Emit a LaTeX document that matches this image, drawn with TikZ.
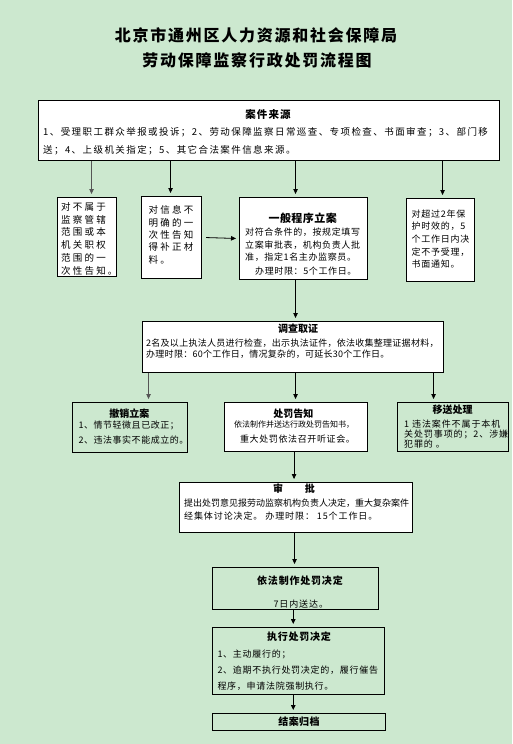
\documentclass[tikz,border=0pt]{standalone}
\usepackage{fontspec}
\setmainfont{Noto Sans CJK SC}
\usetikzlibrary{arrows.meta}
\definecolor{bgc}{RGB}{204,232,207}
\definecolor{arrgray}{RGB}{85,85,85}
\newcommand\fz[3]{\fontsize{#1}{#3}\selectfont\addfontfeature{LetterSpace=#2}}
\tikzset{
  box/.style={draw=black, line width=1.1pt, fill=white, inner sep=0pt, anchor=north west},
  gbox/.style={box, fill=bgc},
  txt/.style={inner sep=0pt, anchor=north west, align=left},
  ttl/.style={inner sep=0pt, anchor=center},
  arr/.style={draw=black, line width=0.8pt, -{Triangle[length=5pt,width=4.5pt]}, shorten >=3pt},
  garr/.style={arr, draw=arrgray}
}
\begin{document}
\begin{tikzpicture}[x=1pt,y=-1pt]
\useasboundingbox (0,0) rectangle (512,744);
\fill[bgc] (0,0) rectangle (512,744);

% Title
\node[ttl, font=\fz{16}{11}{18}\bfseries] (t1) at (256,35) {北京市通州区人力资源和社会保障局};
\node[ttl, font=\fz{16}{11}{18}\bfseries] (t2) at (257,60) {劳动保障监察行政处罚流程图};

% Boxes
\node[box, minimum width=461pt, minimum height=60pt] (top) at (38,100) {};
\node[box, minimum width=59pt, minimum height=79pt] (A) at (57,197) {};
\node[box, minimum width=60pt, minimum height=82pt] (B) at (141,196) {};
\node[box, minimum width=128pt, minimum height=82pt] (C) at (239,197) {};
\node[box, minimum width=68pt, minimum height=83pt] (D) at (406,198) {};
\node[box, minimum width=301pt, minimum height=51pt] (inv) at (142,321) {};
\node[gbox, minimum width=115pt, minimum height=50pt] (rev) at (72,402) {};
\node[box, minimum width=143pt, minimum height=49pt] (ntc) at (224,402) {};
\node[gbox, minimum width=111pt, minimum height=49pt] (trn) at (397,402) {};
\node[box, minimum width=233pt, minimum height=50pt] (apr) at (179,482) {};
\node[gbox, minimum width=166pt, minimum height=42pt] (dec) at (212,567) {};
\node[gbox, minimum width=172pt, minimum height=67pt] (exe) at (212,627) {};
\node[gbox, minimum width=173pt, minimum height=17pt] (arc) at (212,713) {};

% Texts
\node[ttl, font=\fz{10.5}{11}{12}\bfseries] (topT) at (268,114) {案件来源};
\node[txt, font=\fz{9.5}{15}{17.5}] (topB) at (43,127.7) {1、受理职工群众举报或投诉；2、劳动保障监察日常巡查、专项检查、书面审查；3、部门移\\送；4、上级机关指定；5、其它合法案件信息来源。};

\node[txt, font=\fz{9.5}{23}{12.7}] (AB) at (61,202.4) {对不属于\\监察管辖\\范围或本\\机关职权\\范围的一\\次性告知。};
\node[txt, font=\fz{9.5}{23}{12.3}] (BB) at (148.5,205.7) {对信息不\\明确的一\\次性告知\\得补正材\\料。};

\node[ttl, font=\fz{11}{4}{12}\bfseries] (CT) at (302.7,218.3) {一般程序立案};
\node[txt, font=\fz{9}{7}{12.5}] (CB) at (245,227.7) {对符合条件的，按规定填写\\立案审批表，机构负责人批\\准，指定1名主办监察员。\\[1.8pt]\hspace*{10pt}办理时限：5个工作日。};

\node[txt, font=\fz{9}{8}{12.7}] (DB) at (411.5,209.3) {对超过2年保\\护时效的，5\\个工作日内决\\定不予受理，\\书面通知。};

\node[ttl, font=\fz{10}{0}{12}\bfseries] (invT) at (298,328.3) {调查取证};
\node[txt, font=\fz{9}{3}{11.7}] (invB) at (146,338.3) {2名及以上执法人员进行检查，出示执法证件，依法收集整理证据材料，\\办理时限：60个工作日，情况复杂的，可延长30个工作日。};

\node[ttl, font=\fz{10}{0}{12}\bfseries] (revT) at (129.3,413.3) {撤销立案};
\node[txt, font=\fz{9}{6}{15}] (revB) at (78.3,420.3) {1、情节轻微且已改正；\\2、违法事实不能成立的。};

\node[ttl, font=\fz{10}{0}{12}\bfseries] (ntcT) at (293.3,413.3) {处罚告知};
\node[ttl, font=\fz{8}{0}{10}] (ntcB1) at (294,424.3) {依法制作并送达行政处罚告知书，};
\node[ttl, font=\fz{9}{7}{11}] (ntcB2) at (297.5,439.3) {重大处罚依法召开听证会。};

\node[ttl, font=\fz{10}{0}{12}\bfseries] (trnT) at (452.7,409.3) {移送处理};
\node[txt, font=\fz{9}{10}{10}] (trnB) at (404,419.3) {1 违法案件不属于本机\\关处罚事项的；2、涉嫌\\犯罪的 。};

\node[ttl, font=\fz{10}{0}{12}\bfseries] (aprT) at (294,488.3) {审\hspace{21.6pt}批};
\node[txt, font=\fz{9}{0}{13.7}] (aprB) at (184,498.3) {提出处罚意见报劳动监察机构负责人决定，重大复杂案件\\{\addfontfeature{LetterSpace=10}经集体讨论决定。 办理时限： 15个工作日。}};

\node[ttl, font=\fz{10}{8}{12}\bfseries] (decT) at (300,581) {依法制作处罚决定};
\node[ttl, font=\fz{9}{10}{11}] (decB) at (300.8,604.3) {7日内送达。};

\node[ttl, font=\fz{10}{8}{12}\bfseries] (exeT) at (299,637) {执行处罚决定};
\node[txt, font=\fz{9}{8}{16.4}] (exeB) at (217.3,649.3) {1、主动履行的；\\2、逾期不执行处罚决定的，履行催告\\程序，申请法院强制执行。};

\node[ttl, font=\fz{10}{4}{12}\bfseries] (arcT) at (299,722) {结案归档};

% Connectors
\draw[garr] ([xshift=4.5pt]A.north |- top.south) -- ([xshift=4.5pt]A.north);
\draw[arr] ([xshift=-1pt]B.north |- top.south) -- ([xshift=-1pt]B.north);
\draw[arr] ([xshift=-8pt]C.north |- top.south) -- ([xshift=-8pt]C.north);
\draw[arr] ([xshift=2pt]D.north |- top.south) -- ([xshift=2pt]D.north);
\draw[arr] ([xshift=4pt]B.east) -- (C.west);
\draw[arr] ([xshift=-8pt]C.south) -- ([xshift=-8pt]C.south |- inv.north);
\draw[garr] ([xshift=18.5pt]rev.north |- inv.south) -- ([xshift=18.5pt]rev.north);
\draw[arr] ([xshift=-0.5pt]ntc.north |- inv.south) -- ([xshift=-0.5pt]ntc.north);
\draw[arr] ([xshift=-19.5pt]trn.north |- inv.south) -- ([xshift=-19.5pt]trn.north);
\draw[arr] ([xshift=-2pt]apr.north |- ntc.south) -- ([xshift=-2pt]apr.north);
\draw[arr] ([xshift=-1pt]dec.north |- apr.south) -- ([xshift=-1pt]dec.north);
\draw[arr] ([xshift=-5.3pt]exe.north |- dec.south) -- ([xshift=-5.3pt]exe.north);
\draw[arr] ([xshift=-5.8pt]arc.north |- exe.south) -- ([xshift=-5.8pt]arc.north);
\end{tikzpicture}
\end{document}
